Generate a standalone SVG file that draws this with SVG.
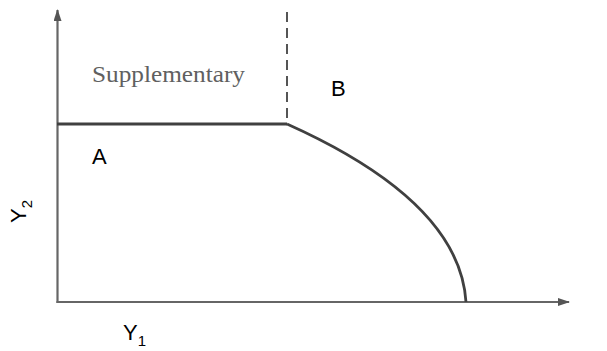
<svg xmlns="http://www.w3.org/2000/svg" width="607" height="351" viewBox="0 0 607 351">
<style>
.axis{stroke:#666;stroke-width:2.2;fill:none}
.front{stroke:#404040;stroke-width:2.8;fill:none}
.dash{stroke:#555;stroke-width:2;stroke-dasharray:10,6;fill:none}
.lbl{font-family:"Liberation Sans",Arial,sans-serif;font-size:22px;fill:#000}
.serif{font-family:"Liberation Serif","Times New Roman",serif;font-size:23px;fill:#606060}
</style>
<defs>
<marker id="arr" viewBox="0 0 12 8" refX="11" refY="4" markerWidth="12" markerHeight="8" markerUnits="userSpaceOnUse" orient="auto">
<path d="M0,0 L12,4 L0,8 Z" fill="#555"/>
</marker>
</defs>
<rect width="607" height="351" fill="#fff"/>
<g id="connectors">
<line class="axis" x1="57.5" y1="303" x2="57.5" y2="10" marker-end="url(#arr)"/>
<line class="axis" x1="56.5" y1="302" x2="569" y2="302" marker-end="url(#arr)"/>
<line class="front" x1="57" y1="124" x2="287" y2="124"/>
<path class="front" d="M287,124 C345,150 460,208 466,302"/>
<line class="dash" x1="287" y1="12" x2="287" y2="124"/>
</g>
<g id="supplementary"><text class="serif" x="92" y="81.5" textLength="153" lengthAdjust="spacingAndGlyphs">Supplementary</text></g>
<g id="A"><text class="lbl" x="92" y="163.5">A</text></g>
<g id="B"><text class="lbl" x="331" y="96">B</text></g>
<g id="Y1"><text class="lbl" x="123" y="340">Y<tspan font-size="15" dy="6">1</tspan></text></g>
<g id="Y2"><text class="lbl" transform="translate(26,223) rotate(-90)" x="0" y="0">Y<tspan font-size="15" dy="6">2</tspan></text></g>
</svg>
